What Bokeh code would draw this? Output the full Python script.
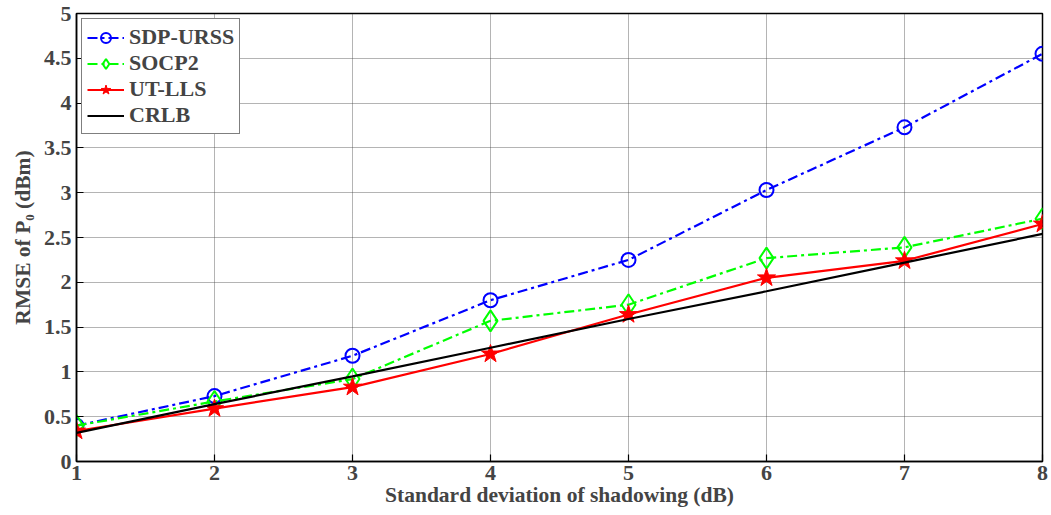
from bokeh.plotting import figure
from bokeh.models import FixedTicker, Range1d, Legend, LegendItem
from bokeh.embed import file_html
from bokeh.resources import INLINE

x = [1, 2, 3, 4, 5, 6, 7, 8]
sdp_urss = [0.40, 0.73, 1.18, 1.80, 2.25, 3.03, 3.73, 4.55]
socp2 = [0.40, 0.67, 0.92, 1.57, 1.75, 2.27, 2.39, 2.71]
ut_lls = [0.34, 0.59, 0.83, 1.20, 1.64, 2.05, 2.24, 2.65]
crlb = [0.32, 0.64, 0.95, 1.27, 1.59, 1.90, 2.22, 2.54]
y_ticks = [0, 0.5, 1, 1.5, 2, 2.5, 3, 3.5, 4, 4.5, 5]
y_tick_labels = ["0", "0.5", "1", "1.5", "2", "2.5", "3", "3.5", "4", "4.5", "5"]
x_ticks = [1, 2, 3, 4, 5, 6, 7, 8]

FONT = "Liberation Serif"

p = figure(width=1051, height=515, output_backend="svg", toolbar_location=None,
           x_range=Range1d(1, 8), y_range=Range1d(0, 5),
           min_border_left=76, min_border_right=9, min_border_top=13, min_border_bottom=54)

p.outline_line_color = "black"
p.outline_line_width = 1.5
p.outline_line_alpha = 1

for ax in (p.xaxis[0], p.yaxis[0]):
    ax.major_label_text_font = FONT
    ax.major_label_text_font_style = "bold"
    ax.major_label_text_font_size = "22px"
    ax.axis_label_text_font = FONT
    ax.axis_label_text_font_style = "bold"
    ax.axis_label_text_font_size = "21.5px"
    ax.major_tick_in = 7
    ax.major_tick_out = 0
    ax.minor_tick_line_color = None
    ax.axis_line_width = 1.5
    ax.major_tick_line_width = 1.2

p.xaxis[0].ticker = FixedTicker(ticks=x_ticks)
p.yaxis[0].ticker = FixedTicker(ticks=y_ticks)
p.yaxis[0].major_label_overrides = {t: l for t, l in zip(y_ticks, y_tick_labels)}
p.xaxis[0].axis_label = "Standard deviation of shadowing (dB)"
p.yaxis[0].axis_label = "RMSE of P\u2080 (dBm)"
p.xaxis[0].axis_label_standoff = 0
p.yaxis[0].axis_label_standoff = 6
p.xaxis[0].major_label_standoff = 4
p.yaxis[0].major_label_standoff = 5

p.xgrid.ticker = FixedTicker(ticks=x_ticks)
p.ygrid.ticker = FixedTicker(ticks=y_ticks)
for g in (p.xgrid, p.ygrid):
    g.grid_line_color = "#444444"
    g.grid_line_dash = "1 1"
    g.grid_line_width = 1
    g.grid_line_alpha = 0.8

l1 = p.line(x, sdp_urss, color="#0000ff", line_width=2.2, line_dash="10 4 3 4")
m1 = p.scatter(x, sdp_urss, marker="circle", size=14, fill_color=None,
               line_color="#0000ff", line_width=2)
l2 = p.line(x, socp2, color="#00ff00", line_width=2.2, line_dash="10 4 3 4")
m2 = p.scatter(x, socp2, marker="diamond", size=21, fill_color=None,
               line_color="#00ff00", line_width=2)
l3 = p.line(x, ut_lls, color="#ff0000", line_width=2.2)
m3 = p.scatter(x, ut_lls, marker="star", size=19, fill_color="#ff0000",
               line_color="#ff0000", line_width=1)
l4 = p.line(x, crlb, color="black", line_width=2.2)

legend = Legend(items=[
    LegendItem(label="SDP-URSS", renderers=[l1, m1]),
    LegendItem(label="SOCP2", renderers=[l2, m2]),
    LegendItem(label="UT-LLS", renderers=[l3, m3]),
    LegendItem(label="CRLB", renderers=[l4]),
], location="top_left")
legend.label_text_font = FONT
legend.label_text_font_style = "bold"
legend.label_text_font_size = "22px"
legend.border_line_color = "black"
legend.border_line_width = 1.5
legend.background_fill_alpha = 1
legend.glyph_width = 37
legend.glyph_height = 25
legend.label_height = 25
legend.spacing = 0
legend.padding = 5
legend.margin = 5
legend.label_standoff = 5
p.add_layout(legend)

open("out.html", "w").write(file_html(p, INLINE))
